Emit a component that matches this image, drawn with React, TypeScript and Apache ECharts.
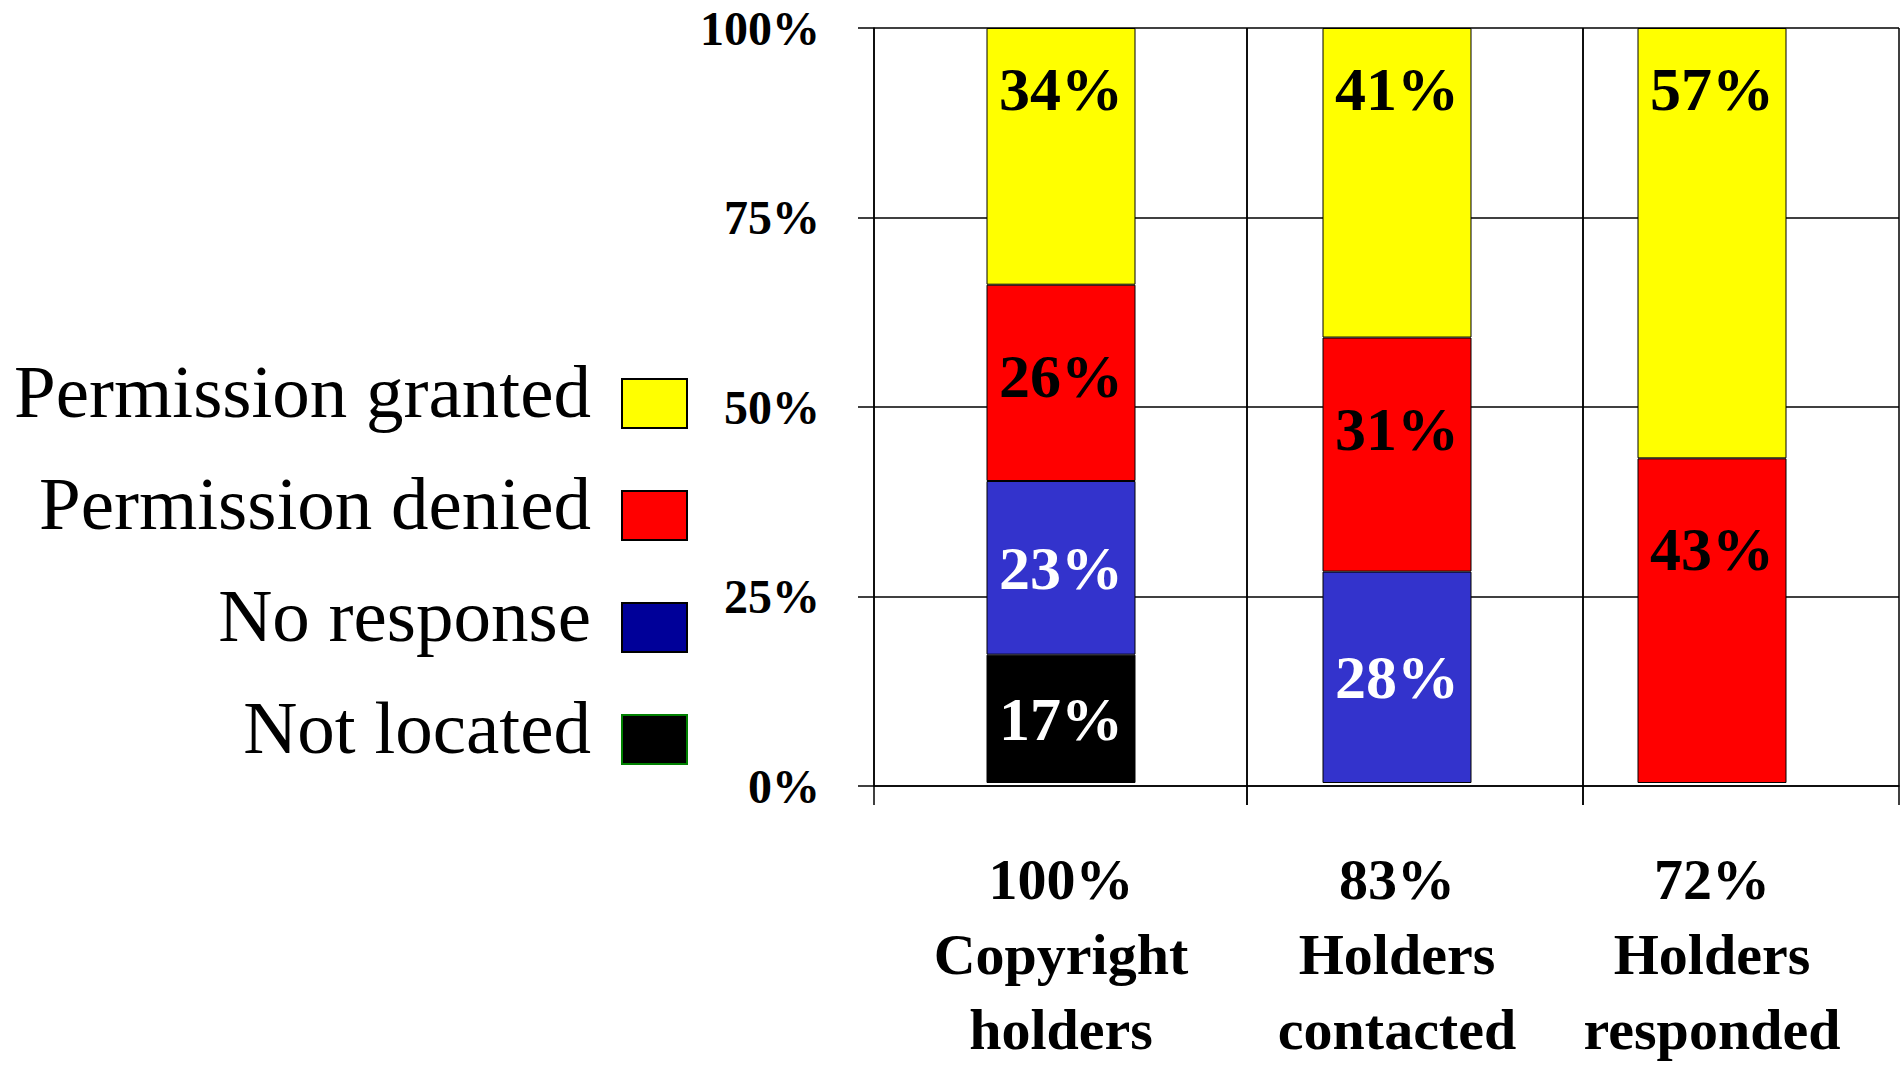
import React, { useEffect, useRef } from "react";
import * as echarts from "echarts";

// ---- data ----
const categories = ["Copyright holders", "Holders contacted", "Holders responded"];
const holderShare = [100, 83, 72];
const notLocated = [17, 0, 0];
const noResponse = [23, 28, 0];
const permissionDenied = [26, 31, 43];
const permissionGranted = [34, 41, 57];
const yTicks = [0, 25, 50, 75, 100];
const legendOrder = ["Permission granted", "Permission denied", "No response", "Not located"];

// ---- layout ----
const W = 1901;
const H = 1067;
const PLOT_TOP = 28;
const PLOT_BOTTOM = H - 786;
const frameEdges = [874, 1247, 1583, 1899];
const barCenters = [1061, 1397, 1712];
const BAR_GRID_WIDTH = 372;
const BAR_WIDTH = 149;
const FONT = "'Liberation Serif', 'Times New Roman', serif";
const LINE = { color: "#000", width: 1.5 };

// stacking order, bottom to top
const segments = [
  { name: "Not located", values: notLocated, color: "#000000", legendColor: "#000000", legendBorder: "#008000", labelColor: "#ffffff", position: "inside", distance: 0 },
  { name: "No response", values: noResponse, color: "#3333CC", legendColor: "#000099", legendBorder: "#000000", labelColor: "#ffffff", position: "inside", distance: 0 },
  { name: "Permission denied", values: permissionDenied, color: "#FF0000", legendColor: "#FF0000", legendBorder: "#000000", labelColor: "#000000", position: "insideTop", distance: 60 },
  { name: "Permission granted", values: permissionGranted, color: "#FFFF00", legendColor: "#FFFF00", legendBorder: "#000000", labelColor: "#000000", position: "insideTop", distance: 30 },
];

function buildOption() {
  const frameGrids = categories.map((_, i) => ({
    left: frameEdges[i],
    right: W - frameEdges[i + 1],
    top: PLOT_TOP,
    bottom: PLOT_BOTTOM,
  }));
  const barGrids = barCenters.map((c) => ({
    left: c - BAR_GRID_WIDTH / 2,
    width: BAR_GRID_WIDTH,
    top: PLOT_TOP,
    bottom: PLOT_BOTTOM,
  }));

  const frameX = categories.map((cat, i) => ({
    type: "category",
    gridIndex: i,
    data: [cat],
    boundaryGap: true,
    axisLine: { show: true, onZero: false, lineStyle: LINE },
    axisTick: { show: true, length: 19, lineStyle: LINE },
    axisLabel: { show: false },
    splitLine: { show: true, lineStyle: LINE },
  }));
  const frameY = categories.map((_, i) => ({
    type: "value",
    gridIndex: i,
    min: yTicks[0],
    max: yTicks[yTicks.length - 1],
    interval: yTicks[1] - yTicks[0],
    axisLine: { show: i === 0, lineStyle: LINE },
    axisTick: { show: i === 0, length: 16, lineStyle: LINE },
    axisLabel: {
      show: i === 0,
      formatter: "{value}%",
      fontSize: 48,
      fontWeight: "bold",
      fontFamily: FONT,
      color: "#000",
      margin: 54,
    },
    splitLine: { show: true, lineStyle: LINE },
  }));

  const barX = categories.map((cat, i) => ({
    type: "category",
    gridIndex: 3 + i,
    data: [cat],
    axisLine: { show: false },
    axisTick: { show: false },
    splitLine: { show: false },
    axisLabel: {
      interval: 0,
      margin: 59,
      fontSize: 58,
      lineHeight: 75,
      fontWeight: "bold",
      fontFamily: FONT,
      color: "#000",
      align: "center",
      formatter: (v: string) => {
        const words = v.split(" ");
        return `${holderShare[i]}%\n${words[0]}\n${words.slice(1).join(" ")}`;
      },
    },
  }));
  const barY = categories.map((_, i) => ({
    type: "value",
    gridIndex: 3 + i,
    min: yTicks[0],
    max: yTicks[yTicks.length - 1],
    show: false,
    splitLine: { show: false },
  }));

  const series: any[] = [];
  categories.forEach((_, i) => {
    segments.forEach((s) => {
      const v = s.values[i];
      series.push({
        type: "bar",
        name: s.name,
        stack: "stack" + i,
        xAxisIndex: 3 + i,
        yAxisIndex: 3 + i,
        barWidth: BAR_WIDTH,
        data: [v > 0 ? v : null],
        itemStyle: { color: s.color, borderColor: "#000", borderWidth: 1 },
        label: {
          show: true,
          position: s.position,
          distance: s.distance,
          formatter: "{c}%",
          fontSize: 62,
          fontWeight: "bold",
          fontFamily: FONT,
          color: s.labelColor,
        },
      });
    });
  });

  const legendData = legendOrder.map((name) => {
    const s = segments.find((seg) => seg.name === name)!;
    return {
      name,
      itemStyle: { color: s.legendColor, borderColor: s.legendBorder, borderWidth: 2 },
    };
  });

  return {
    animation: false,
    backgroundColor: "#ffffff",
    textStyle: { fontFamily: FONT },
    grid: [...frameGrids, ...barGrids],
    xAxis: [...frameX, ...barX],
    yAxis: [...frameY, ...barY],
    legend: {
      orient: "vertical",
      right: W - 688,
      top: 354,
      align: "right",
      icon: "rect",
      itemWidth: 65,
      itemHeight: 49,
      itemGap: 37,
      padding: 0,
      selectedMode: false,
      formatter: "{t|{name}}",
      textStyle: {
        fontSize: 75,
        fontFamily: FONT,
        color: "#000",
        rich: {
          t: { fontSize: 75, fontFamily: FONT, color: "#000", padding: [0, 26, 24, 0] },
        },
      },
      data: legendData,
    },
    series,
  };
}

export default function App() {
  const ref = useRef<HTMLDivElement>(null);
  useEffect(() => {
    if (!ref.current) return;
    const chart = echarts.init(ref.current, null, { renderer: "svg" });
    chart.setOption(buildOption() as any);
    return () => chart.dispose();
  }, []);
  return (
    <div
      ref={ref}
      style={{ position: "fixed", left: 0, top: 0, width: W, height: H, background: "#fff" }}
    />
  );
}
